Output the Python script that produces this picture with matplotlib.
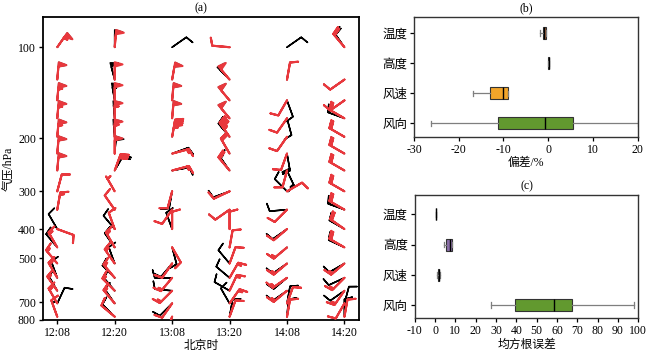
import numpy as np
import matplotlib
matplotlib.use('Agg')
import matplotlib.pyplot as plt
from matplotlib.ticker import FixedLocator, FixedFormatter, NullLocator

plt.rcParams['font.family'] = ['Liberation Serif', 'Noto Sans CJK SC']
plt.rcParams['font.size'] = 8.5
plt.rcParams['axes.unicode_minus'] = False

# ---------------- data ----------------
times = ['12:08', '12:20', '13:08', '13:20', '14:08', '14:20']
levels = [100, 128, 150, 172, 198, 225, 256, 300, 345, 400, 460, 520, 580, 640, 705, 780]
nan = np.nan

# red series: direction (deg) and speed, one row per time
red_dir = [
    [35, 5, 5, 5, 5, 5, 5, 15, 10, 110, 330, 320, 330, 325, 330, 340],
    [5, 0, 0, 0, 0, 0, 20, 330, 325, 340, 330, 325, 320, 315, 320, 310],
    [nan, 10, 5, 5, 10, 75, 75, 195, 215, 0, 150, 215, 220, 225, 215, 200],
    [275, 320, 320, 320, 325, 330, 320, 245, 235, 0, 10, 20, 30, 25, 35, 20],
    [nan, 10, 210, 215, 215, 200, 195, 60, 225, 230, 230, 230, 235, 230, 20, 10],
    [320, 235, 235, 300, 300, 300, 300, 300, 300, 305, 300, 230, 225, 215, 210, 10],
]
red_spd = [
    [55, 50, 55, 55, 55, 50, 50, 10, 15, 10, 15, 15, 15, 15, 15, 10],
    [50, 50, 50, 55, 55, 50, 30, 5, 10, 10, 15, 15, 15, 15, 15, 10],
    [nan, 50, 50, 50, 45, 15, 15, 10, 10, 10, 10, 10, 15, 15, 10, 10],
    [10, 50, 50, 50, 45, 20, 20, 10, 10, 10, 10, 10, 15, 15, 15, 10],
    [nan, 10, 10, 10, 10, 10, 10, 10, 10, 10, 15, 15, 15, 15, 10, 10],
    [20, 10, 10, 20, 20, 20, 20, 20, 20, 20, 20, 15, 15, 15, 10, 10],
]
# black series
blk_dir = [
    [35, 5, 5, 5, 5, 5, 5, 15, 10, 330, 320, nan, 340, 330, 25, 340],
    [0, 345, 350, 355, 355, 5, 30, nan, nan, 320, 325, 340, 315, 320, 325, 315],
    [55, 10, 5, 5, 10, 70, 80, 190, nan, 340, 165, 220, 270, 275, 225, 200],
    [275, 315, 320, 320, 320, 330, 325, 250, 235, nan, nan, 320, 310, 300, 330, 10],
    [55, 10, 160, 165, 215, 170, 155, 315, 265, 235, 230, 235, 230, 235, 10, 5],
    [325, 235, 235, 290, 300, 300, 300, 300, 290, 300, 295, 240, 245, 235, 15, 0],
]
blk_spd = [
    [55, 50, 55, 55, 55, 50, 50, 10, 15, 10, 10, nan, 10, 10, 10, 5],
    [50, 50, 55, 55, 55, 50, 20, nan, nan, 10, 10, 10, 10, 10, 10, 10],
    [10, 50, 50, 50, 45, 15, 10, 10, nan, 10, 10, 10, 10, 10, 10, 5],
    [10, 50, 50, 50, 45, 20, 15, 10, 10, nan, nan, 10, 10, 10, 10, 10],
    [10, 10, 10, 10, 10, 20, 15, 10, 10, 10, 10, 10, 10, 10, 10, 10],
    [20, 10, 10, 20, 20, 20, 20, 20, 20, 20, 20, 10, 10, 10, 10, 10],
]

# box statistics
b_cats = ['温度', '高度', '风速', '风向']
b_whislo = [-1.9, -0.05, -16.8, -26.3]
b_q1 = [-1.25, 0.0, -13.0, -11.2]
b_med = [-0.9, 0.08, -10.2, -0.8]
b_q3 = [-0.55, 0.15, -9.0, 5.5]
b_whishi = [-0.55, 0.2, -9.0, 20.0]
b_colors = ['#a0603a', '#909090', '#f2a52a', '#62992f']

c_cats = ['温度', '高度', '风速', '风向']
c_whislo = [0.3, 4.4, 1.2, 27.5]
c_q1 = [0.4, 5.4, 1.5, 39.5]
c_med = [0.5, 7.2, 1.8, 58.5]
c_q3 = [0.6, 8.2, 2.1, 67.5]
c_whishi = [0.7, 8.5, 2.3, 98.0]
c_colors = ['#909090', '#8a6ea8', '#7a8a6a', '#62992f']

# ---------------- figure ----------------
fig = plt.figure(figsize=(6.5, 3.53), dpi=100)
axa = fig.add_axes([0.066, 0.0935, 0.486, 0.858])
axb = fig.add_axes([0.637, 0.6127, 0.344, 0.340])
axc = fig.add_axes([0.638, 0.0983, 0.344, 0.349])

def uv(d, s):
    d = np.radians(np.asarray(d, float))
    s = np.asarray(s, float)
    return -s * np.sin(d), -s * np.cos(d)

bsizes = dict(spacing=0.12, height=0.45, width=0.25)
lev = np.array(levels, float)
for i in range(len(times)):
    x = np.full(len(lev), i, float)
    u, v = uv(blk_dir[i], blk_spd[i])
    m = ~np.isnan(u)
    axa.barbs(x[m], lev[m], u[m], v[m], color='black', length=5.0, linewidth=1.1,
              pivot='tip', sizes=bsizes, zorder=3)
    u, v = uv(red_dir[i], red_spd[i])
    m = ~np.isnan(u)
    axa.barbs(x[m], lev[m], u[m], v[m], color='#e8383d', length=5.0, linewidth=1.5,
              pivot='tip', sizes=bsizes, zorder=4)

axa.set_yscale('log')
axa.set_ylim(800, 79.5)
axa.set_xlim(-0.25, 5.25)
axa.yaxis.set_major_locator(FixedLocator([100, 200, 300, 400, 500, 700, 800]))
axa.yaxis.set_major_formatter(FixedFormatter(['100', '200', '300', '400', '500', '700', '800']))
axa.yaxis.set_minor_locator(NullLocator())
axa.set_xticks(range(len(times)))
axa.set_xticklabels(times)
axa.set_ylabel('气压/hPa', labelpad=2)
axa.set_xlabel('北京时', labelpad=1)
axa.set_title('(a)', fontsize=8.5, pad=4)
for sp in axa.spines.values():
    sp.set_linewidth(1.3)
axa.tick_params(length=3, width=1, pad=2)

def draw_box(ax, cats, wl, q1, md, q3, wh, cols):
    stats = []
    for k in range(len(cats)):
        stats.append(dict(whislo=wl[k], q1=q1[k], med=md[k], q3=q3[k], whishi=wh[k], fliers=[]))
    bp = ax.bxp(stats, positions=range(1, len(cats) + 1), vert=False, widths=0.4,
                patch_artist=True, showfliers=False, capwidths=0.18,
                medianprops=dict(color='black', linewidth=1.0),
                whiskerprops=dict(color='#7f7f7f', linewidth=0.9),
                capprops=dict(color='#7f7f7f', linewidth=0.9),
                boxprops=dict(linewidth=0.8))
    for patch, c in zip(bp['boxes'], cols):
        patch.set_facecolor(c)
        patch.set_edgecolor('#333333')
    ax.set_yticks(range(1, len(cats) + 1))
    ax.set_yticklabels(cats, fontsize=9)
    for sp in ax.spines.values():
        sp.set_linewidth(1.0)
        sp.set_color('#333333')
    ax.tick_params(length=3, width=0.9, pad=2)

draw_box(axb, b_cats, b_whislo, b_q1, b_med, b_q3, b_whishi, b_colors)
axb.set_xlim(-30, 20)
axb.set_ylim(4.45, 0.45)
axb.set_xticks([-30, -20, -10, 0, 10, 20])
axb.set_xlabel('偏差/%', labelpad=1)
axb.set_title('(b)', fontsize=8.5, pad=4)

draw_box(axc, c_cats, c_whislo, c_q1, c_med, c_q3, c_whishi, c_colors)
axc.set_xlim(-10, 100)
axc.set_ylim(4.44, 0.36)
axc.set_xticks(range(-10, 101, 10))
axc.set_xlabel('均方根误差', labelpad=1)
axc.set_title('(c)', fontsize=8.5, pad=4)

fig.savefig('out.png', dpi=100)
